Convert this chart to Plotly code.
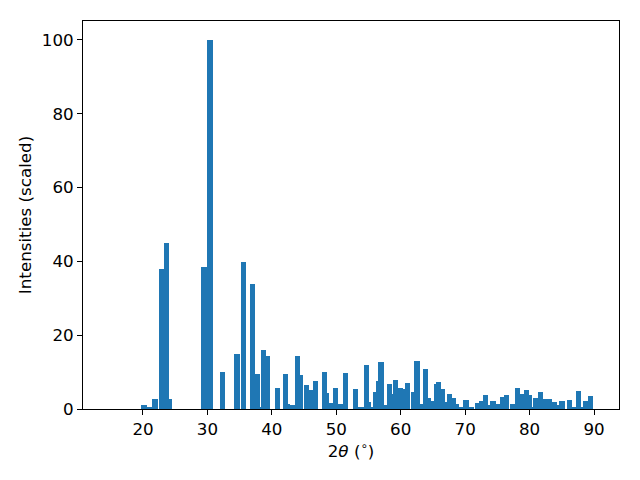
import plotly.graph_objects as go

two_theta = [20.16, 20.93, 21.86, 22.87, 23.65, 24.15, 29.47, 30.40, 32.34, 34.59,
             35.60, 37.00, 37.69, 38.10, 38.70, 39.30, 40.88, 42.12, 42.40, 43.28,
             43.98, 44.43, 45.38, 45.70, 46.15, 46.77, 48.17, 48.45, 49.10, 49.88,
             50.65, 51.43, 52.98, 53.50, 54.00, 54.69, 55.00, 55.50, 56.16, 56.55,
             56.94, 57.60, 58.26, 58.60, 59.19, 59.97, 60.35, 60.60, 61.05, 61.95,
             62.53, 63.20, 63.85, 64.30, 65.05, 65.55, 65.86, 66.50, 67.00, 67.57,
             68.20, 68.70, 69.00, 69.40, 70.13, 70.60, 71.00, 71.92, 72.40, 72.60,
             73.16, 73.70, 74.32, 75.00, 75.30, 75.80, 76.42, 77.35, 78.13, 78.70,
             79.52, 80.00, 80.40, 81.00, 81.70, 82.20, 82.60, 83.10, 83.80, 84.30,
             85.03, 86.20, 86.80, 87.60, 88.10, 88.70, 89.50]
intensity = [1.1, 0.35, 2.7, 37.9, 45.0, 2.7, 38.5, 100.0, 10.0, 14.9,
             39.8, 33.9, 9.5, 0.3, 16.0, 14.4, 5.7, 9.5, 1.4, 1.1,
             14.4, 9.2, 6.5, 0.3, 5.1, 7.6, 10.0, 4.3, 1.6, 5.7,
             1.4, 9.8, 5.4, 0.5, 0.3, 11.9, 1.9, 0.3, 4.6, 7.6,
             12.7, 1.1, 6.8, 4.0, 7.9, 5.7, 1.9, 5.4, 7.0, 4.6,
             13.0, 1.4, 10.8, 3.0, 2.2, 6.8, 7.3, 5.4, 1.9, 4.0,
             3.0, 1.4, 0.3, 0.5, 2.4, 0.5, 0.3, 1.6, 1.4, 2.2,
             3.8, 1.1, 2.2, 1.4, 1.1, 3.3, 3.8, 1.4, 5.7, 4.0,
             5.1, 3.8, 0.5, 3.0, 4.6, 2.7, 2.7, 2.7, 1.9, 1.1,
             2.2, 2.4, 0.5, 4.9, 0.3, 2.2, 3.5]

x_ticks = [20, 30, 40, 50, 60, 70, 80, 90]
y_ticks = [0, 20, 40, 60, 80, 100]

font_family = "DejaVu Sans"
fs = 16.7

fig = go.Figure()
fig.add_trace(go.Bar(
    x=two_theta, y=intensity, width=0.8,
    marker=dict(color="#1f77b4", line=dict(width=0)),
    hoverinfo="skip",
))

axis_common = dict(
    showline=True, linecolor="black", linewidth=1, mirror=True,
    ticks="outside", ticklen=5, tickwidth=1, tickcolor="black",
    showgrid=False, zeroline=False,
    tickfont=dict(family=font_family, size=fs, color="black"),
)

fig.update_layout(
    width=640, height=480,
    margin=dict(l=75, r=29, t=13, b=79),
    paper_bgcolor="white", plot_bgcolor="white",
    showlegend=False, bargap=0,
    font=dict(family=font_family, size=fs, color="black"),
    xaxis=dict(range=[10.69, 93.88], tickvals=x_ticks,
               title=dict(text="2<i>θ</i> (<sup>∘</sup>)", standoff=5,
                          font=dict(family=font_family, size=fs)),
               **axis_common),
    yaxis=dict(range=[0, 105.1], tickvals=y_ticks,
               title=dict(text="Intensities (scaled)", standoff=5,
                          font=dict(family=font_family, size=fs)),
               **axis_common),
)

fig.write_html("out.html")
